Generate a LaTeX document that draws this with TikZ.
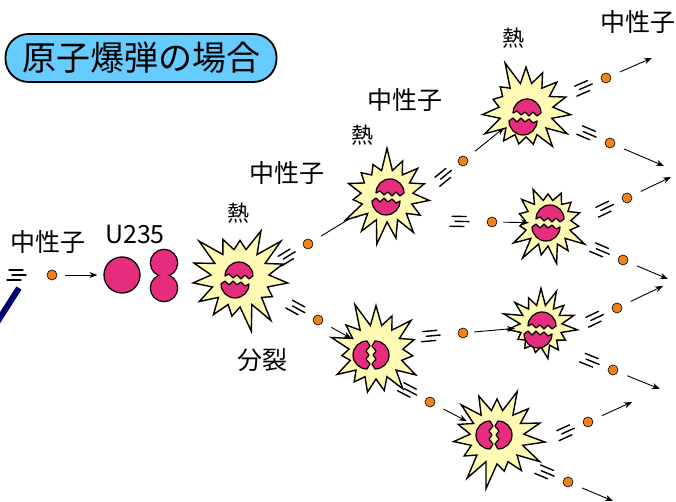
\documentclass[tikz,border=0pt]{standalone}
\usepackage{fontspec}
\setmainfont{Noto Sans CJK JP}
\usetikzlibrary{shapes.symbols,arrows.meta,calc,backgrounds}
\definecolor{skyfill}{RGB}{102,204,255}
\definecolor{burstfill}{RGB}{255,250,180}
\definecolor{nucleus}{RGB}{230,45,125}
\definecolor{neutronfill}{RGB}{240,130,30}
\definecolor{navyline}{RGB}{0,0,110}
\newcommand\fs[1]{\fontsize{#1}{#1}\selectfont}
\tikzset{
  burst/.style={starburst, draw=black, line width=1.4pt, fill=burstfill,
    starburst points=15, starburst point height=#1, inner sep=0pt},
  burst/.default=26pt,
  neutron/.style={circle, draw=black, line width=0.6pt, fill=neutronfill,
    minimum size=10pt, inner sep=0pt},
  uranium/.style={circle, draw=black, line width=1.3pt, fill=nucleus, inner sep=0pt},
  flight/.style={draw=black, line width=0.9pt, -{Stealth[length=8pt,width=6pt]}},
  streak/.style={draw=black, line width=1.4pt, line cap=round},
  piece/.style={fill=nucleus, draw=black, line width=1.2pt, line join=round},
  jplabel/.style={inner sep=0pt, font=\fs{25}},
  heat/.style={inner sep=0pt, font=\fs{22}},
  titlebox/.style={draw=black, line width=1.8pt, fill=skyfill, rounded corners=23pt,
    minimum width=271pt, minimum height=48pt, inner sep=0pt, font=\fs{34}},
  streaks/.pic={
    \draw[streak] (-32,5) -- (-18,5) (-29,0) -- (-15,0) (-34,-5) -- (-20,-5);
  },
  % nucleus cracked into an upper and a lower half
  hsplit/.pic={
    \path[piece, shift={(2,3)}] (-14,1) arc[start angle=180, end angle=0, radius=14]
      -- (10,-2) -- (6,2) -- (2,-2) -- (-2,2) -- (-6,-1) -- (-10,3) -- cycle;
    \path[piece, shift={(-2,-3)}] (14,-1) arc[start angle=0, end angle=-180, radius=14]
      -- (-10,2) -- (-6,-2) -- (-2,2) -- (2,-2) -- (6,1) -- (10,-3) -- cycle;
  },
  % nucleus cracked into a left and a right half
  vsplit/.pic={
    \path[piece, shift={(-2,0)}] (-2,14) arc[start angle=90, end angle=270, x radius=14, y radius=14]
      -- (1,-9) -- (-3,-4) -- (0,0) -- (-3,4) -- (1,9) -- cycle;
    \path[piece, shift={(2,0)}] (2,14) arc[start angle=90, end angle=-90, x radius=14, y radius=14]
      -- (-1,-9) -- (3,-4) -- (0,0) -- (3,4) -- (-1,9) -- cycle;
  },
}
% a neutron with its motion streaks, heading towards #4
\newcommand\particle[4][0]{%
  \node[neutron] (#2) at (#3) {};
  \path let \p1=($(#4)-(#2)$), \n1={atan2(\y1,\x1)} in
    (#2) pic[rotate=\n1, xshift=-#1pt] {streaks};
}

\begin{document}
\begin{tikzpicture}[x=1pt,y=1pt]
\useasboundingbox (0,0) rectangle (676,502);
\begin{scope}[on background layer]
  \fill[white] (0,0) rectangle (676,502);
\end{scope}

% heading
\node[titlebox] (title) at (141,444) {原子爆弾の場合};

% incoming neutron and the uranium nucleus
\draw[navyline, line width=6pt] (19,214) -- (-4,178);
\node[jplabel] (lbln0) at (48,260) {中性子};
\node[jplabel] (lblu) at (135,267) {U235};
\node[uranium, minimum size=36pt] (u) at (122,227) {};
\coordinate (fa) at (164,239);
\coordinate (fb) at (164,214);
\draw[line width=2.6pt] (fa) circle[radius=13] (fb) circle[radius=13];
\fill[nucleus] (fa) circle[radius=13] (fb) circle[radius=13];

% fission bursts
\node[burst=27pt, minimum size=112pt, random starburst=3] (b1) at (240,224) {};
\node[burst=24pt, minimum size=100pt, random starburst=7] (b2) at (387,306) {};
\node[burst=26pt, minimum size=106pt, random starburst=11] (b3) at (376,150) {};
\node[burst=26pt, minimum size=106pt, random starburst=5] (b4) at (526,392) {};
\node[burst=21pt, minimum size=88pt, random starburst=13] (b5) at (548,279) {};
\node[burst=19pt, minimum size=80pt, random starburst=17] (b6) at (541,176) {};
\node[burst=26pt, minimum size=106pt, random starburst=19] (b7) at (497,65) {};

% broken nuclei
\pic at (237,222) {hsplit};
\pic at (388,305) {hsplit};
\pic at (371,147) {vsplit};
\pic at (525,385) {hsplit};
\pic at (548,279) {hsplit};
\pic at (540,172) {hsplit};
\pic at (494,67) {vsplit};

% free ends of the outgoing neutrons
\coordinate (e4a) at (652,444);
\coordinate (e4b) at (664,336);
\coordinate (e5a) at (671,325);
\coordinate (e5b) at (668,223);
\coordinate (e6a) at (663,216);
\coordinate (e6b) at (660,113);
\coordinate (e7a) at (632,100);
\coordinate (e7b) at (613,1);

% neutrons
\particle[11]{d0}{52,227}{u}
\particle{d1a}{308,258}{b2}
\particle{d1b}{318,182}{b3}
\particle{d2a}{463,341}{b4}
\particle[8]{d2b}{492,280}{b5}
\particle[8]{d3a}{463,169}{b6}
\particle{d3b}{430,100}{b7}
\particle{d4a}{606,424}{e4a}
\particle{d4b}{610,359}{e4b}
\particle{d5a}{627,304}{e5a}
\particle{d5b}{623,242}{e5b}
\particle{d6a}{617,194}{e6a}
\particle{d6b}{613,132}{e6b}
\particle{d7a}{588,80}{e7a}
\particle{d7b}{568,20}{e7b}

% flight paths
\draw[flight, shorten <=8pt, shorten >=6pt] (d0) -- (u);
\begin{scope}[on background layer]
  \draw[flight, shorten <=10pt, shorten >=30pt] (d1a) -- (b2.center);
  \draw[flight, shorten <=10pt, shorten >=28pt] (d1b) -- (b3.center);
  \draw[flight, shorten <=10pt, shorten >=28pt] (d2a) -- (b4.center);
  \draw[flight, shorten <=10pt, shorten >=34pt] (d3b) -- (b7.center);
\end{scope}
\draw[flight, shorten <=6pt, shorten >=19pt] (d2b) -- (b5.center);
\draw[flight, shorten <=6pt, shorten >=26pt] (d3a) -- (b6.center);
\foreach \d/\e in {d4a/e4a, d4b/e4b, d5a/e5a, d5b/e5b, d6a/e6a, d6b/e6b, d7a/e7a, d7b/e7b}
  \draw[flight, shorten <=10pt] (\d) -- (\e);

% labels
\node[heat] (heat1) at (238,289) {熱};
\node[heat] (heat2) at (362,367) {熱};
\node[heat] (heat3) at (513,464) {熱};
\node[jplabel] (lbln1) at (287,329) {中性子};
\node[jplabel] (lbln2) at (405,402) {中性子};
\node[jplabel, anchor=east] (lbln3) at (676,480) {中性子};
\node[jplabel] (lblsplit) at (262,142) {分裂};
\end{tikzpicture}
\end{document}
